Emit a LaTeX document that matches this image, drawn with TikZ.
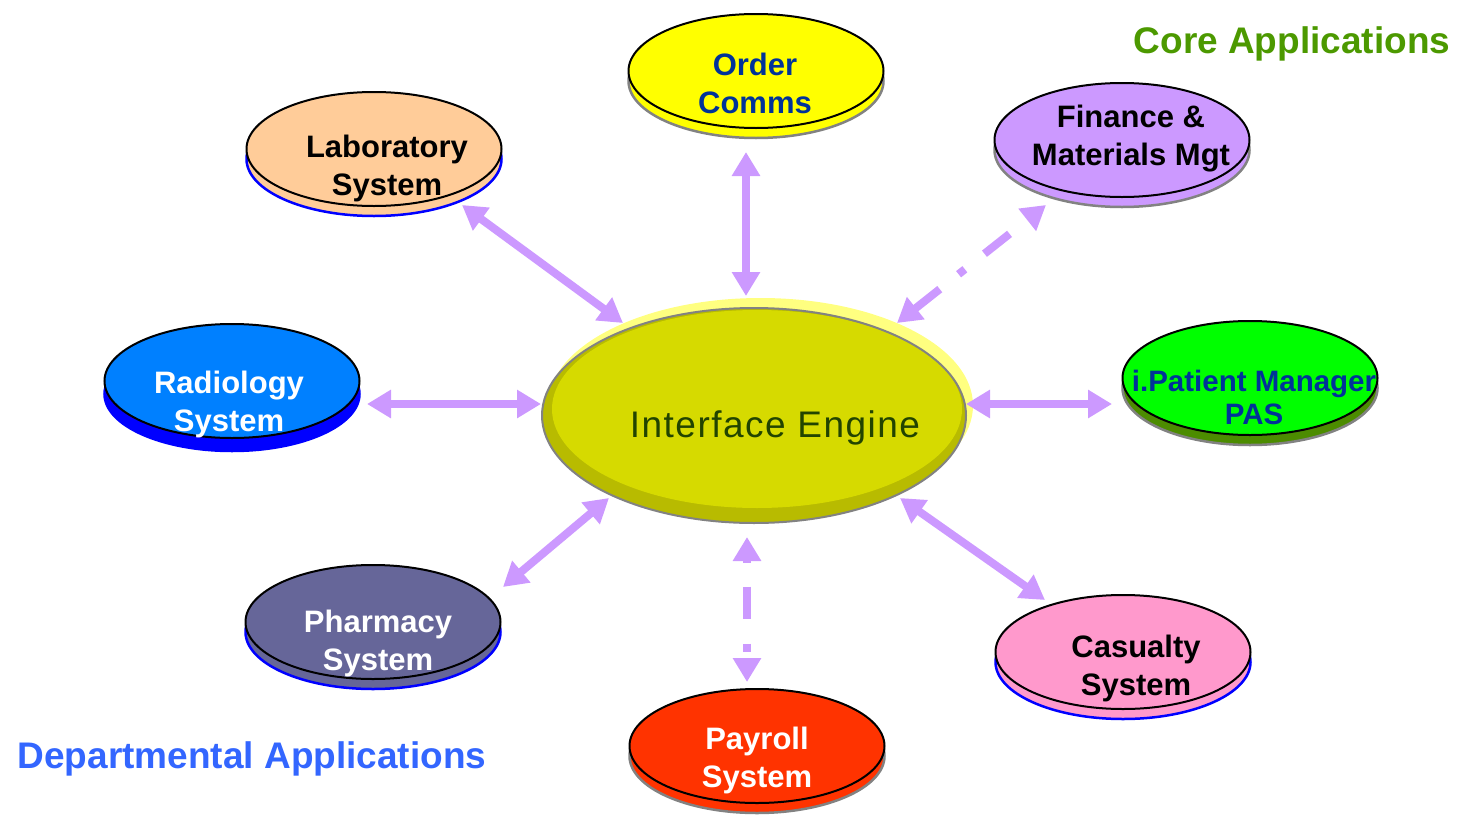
\documentclass[tikz,border=0pt]{standalone}
\usepackage{fontspec}
\setmainfont{Liberation Sans}
\usetikzlibrary{arrows.meta,calc,shapes.geometric}
\definecolor{arrowc}{RGB}{204,153,255}
\definecolor{ordc}{RGB}{255,255,0}
\definecolor{labc}{RGB}{255,204,153}
\definecolor{finc}{RGB}{204,153,255}
\definecolor{radc}{RGB}{0,128,255}
\definecolor{radbase}{RGB}{0,0,255}
\definecolor{pasc}{RGB}{0,255,0}
\definecolor{pasbase}{RGB}{76,140,0}
\definecolor{phac}{RGB}{102,102,153}
\definecolor{casc}{RGB}{255,153,204}
\definecolor{payc}{RGB}{255,51,0}
\definecolor{darkblue}{RGB}{0,51,153}
\definecolor{coreg}{RGB}{76,153,0}
\definecolor{deptb}{RGB}{51,102,255}
\definecolor{enghi}{RGB}{255,255,128}
\definecolor{engdark}{RGB}{184,187,0}
\definecolor{englight}{RGB}{214,218,0}
\definecolor{engtext}{RGB}{34,68,0}
\definecolor{shadowgrey}{RGB}{130,130,130}
\newcommand\sysdisc[7]{%
  \draw[draw=#6, line width=2.5pt, fill=#5] (#2,#3+#7) ellipse [x radius=127.5, y radius=57];
  \node[topdisc, fill=#4] (#1) at (#2,#3) {};
}
\begin{document}
\begin{tikzpicture}[x=1pt,y=-1pt,
  topdisc/.style={ellipse, draw=black, line width=2pt, minimum width=255pt, minimum height=114pt, inner sep=0pt},
  lbl/.style={font=\fontsize{31}{38}\selectfont\bfseries, align=center, inner sep=0pt},
  title/.style={font=\fontsize{37}{44}\selectfont\bfseries, anchor=base, inner sep=0pt},
  arr/.style={draw=arrowc, line width=8pt, {Triangle[length=24pt,width=27pt]}-{Triangle[length=24pt,width=27pt]}},
  dasharr/.style={arr, dash pattern=on 32pt off 25pt on 8pt off 24pt}
]
\useasboundingbox (0,0) rectangle (1460,822);

% central engine
\fill[enghi] (760.5,405.5) ellipse [x radius=212.5, y radius=107.5];
\node[ellipse, minimum width=424pt, minimum height=215pt, inner sep=0pt, fill=engdark] (eng) at (754,415.5) {};
\begin{scope}
  \clip (754,415.5) ellipse [x radius=212, y radius=107.5];
  \fill[englight] (757,409) ellipse [x radius=205, y radius=99];
\end{scope}
\draw[shadowgrey, line width=2pt] (754,415.5) ellipse [x radius=212, y radius=107.5];
\node[font=\fontsize{37}{44}\selectfont\addfontfeature{LetterSpace=4}, text=engtext, anchor=base, inner sep=0pt] (engT) at (775,437) {Interface Engine};

% systems
\sysdisc{ord}{756}{71}{ordc}{ordc}{shadowgrey}{10}
\sysdisc{lab}{374}{149}{labc}{labc}{blue}{10}
\sysdisc{fin}{1122}{140}{finc}{finc}{shadowgrey}{10}
\sysdisc{rad}{232}{381}{radc}{radbase}{radbase}{13}
\sysdisc{pas}{1250}{378}{pasc}{pasbase}{shadowgrey}{10}
\sysdisc{pha}{373}{622}{phac}{phac}{blue}{10}
\sysdisc{cas}{1123}{652}{casc}{casc}{blue}{10}
\sysdisc{pay}{757}{746}{payc}{payc}{shadowgrey}{10}

\node[lbl, text=darkblue] (ordT) at (755,83) {Order\\Comms};
\node[lbl, text=black] (labT) at (387,168.5) {Laboratory\\System};
\node[lbl, text=black] (finT) at (1131,139) {Finance \&\\Materials Mgt};
\node[lbl, text=white] (radT) at (229,404) {Radiology\\System};
\node[lbl, text=darkblue, font=\fontsize{29.5}{33}\selectfont\bfseries] (pasT) at (1254,397) {i.Patient Manager\\PAS};
\node[lbl, text=white] (phaT) at (378,643) {Pharmacy\\System};
\node[lbl, text=black] (casT) at (1136,668) {Casualty\\System};
\node[lbl, text=white] (payT) at (757,760.5) {Payroll\\System};

% titles
\node[title, text=coreg] (core) at (1292,53) {Core Applications};
\node[title, text=deptb] (dept) at (252,768) {Departmental Applications};

% connectors
\draw[arr] ($(lab)+(88,56)$) -- ($(eng)+(-131,-92.5)$);
\draw[arr] ($(ord)+(-10,81)$) -- ($(eng)+(-8,-119.5)$);
\draw[dasharr, dash phase=65pt] ($(fin)+(-76,65)$) -- ($(eng)+(143,-92.5)$);
\draw[arr] ($(rad)+(135,23)$) -- ($(eng)+(-213,-11.5)$);
\draw[arr] ($(eng)+(212,-11.5)$) -- ($(pas)+(-138,26)$);
\draw[arr] ($(pha)+(130,-35)$) -- ($(eng)+(-145,82.5)$);
\draw[arr] ($(eng)+(146,82.5)$) -- ($(cas)+(-78,-52)$);
\draw[dasharr, dash phase=62pt] ($(eng)+(-7,121.5)$) -- ($(pay)+(-10,-64)$);
\end{tikzpicture}
\end{document}
